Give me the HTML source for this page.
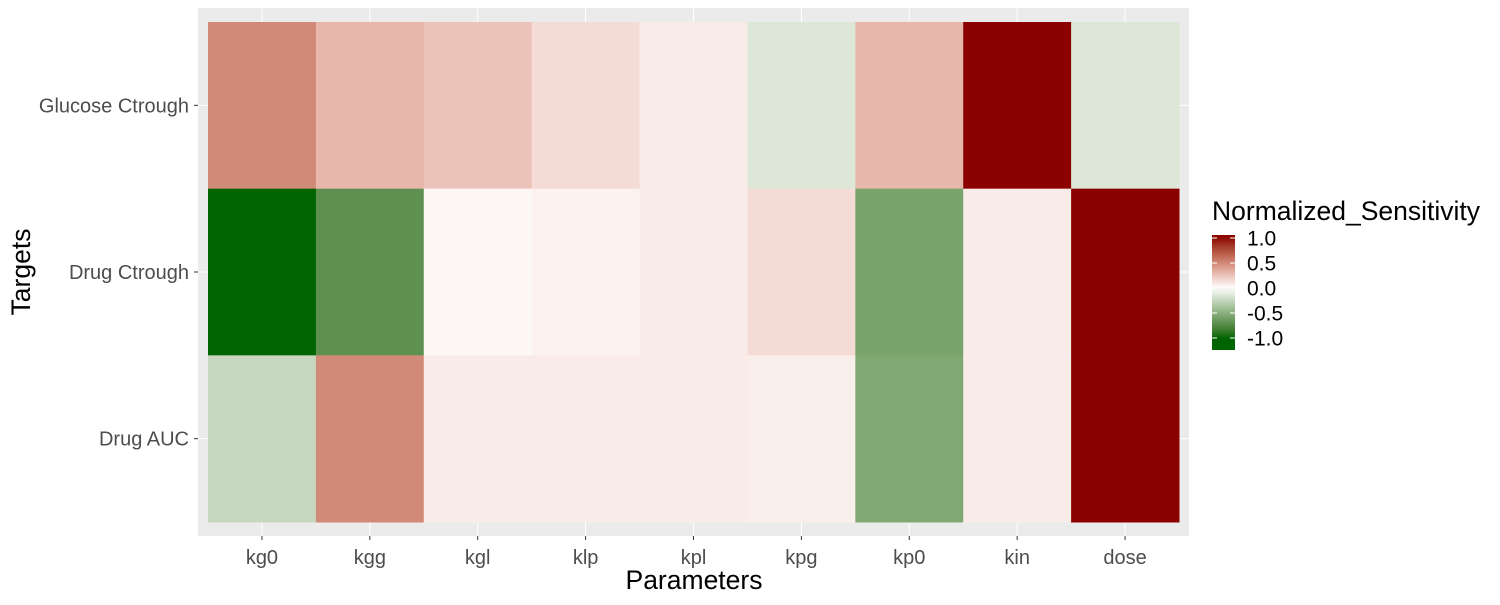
<!DOCTYPE html>
<html><head><meta charset="utf-8"><style>
body{margin:0;background:#fff;}
svg text{font-family:"Liberation Sans",Arial,sans-serif;}
</style></head><body>
<svg id="c" width="1500" height="600" xmlns="http://www.w3.org/2000/svg">
<rect x="198" y="8" width="991" height="528" fill="#ebebeb"/>
<g id="grid"></g>
<g id="tiles"></g>
<g id="axes"></g>
<text x="694" y="589" font-size="26.5" text-anchor="middle" fill="#000">Parameters</text>
<text transform="translate(30,272) rotate(-90)" font-size="26.5" text-anchor="middle" fill="#000">Targets</text>
<text x="1212" y="220" font-size="26.5" fill="#000">Normalized_Sensitivity</text>
<defs><linearGradient id="lg" x1="0" y1="0" x2="0" y2="1"></linearGradient></defs>
<g id="legend"></g>
</svg>
<script>
const params=["kg0","kgg","kgl","klp","kpl","kpg","kp0","kin","dose"];
const targets=["Glucose Ctrough","Drug Ctrough","Drug AUC"];
const glucoseVals=[0.5,0.3,0.25,0.15,0.08,-0.15,0.3,1.0,-0.15];
const ctroughVals=[-1.0,-0.7,0.03,0.05,0.08,0.15,-0.58,0.08,1.0];
const aucVals=[-0.25,0.5,0.08,0.08,0.08,0.07,-0.55,0.08,1.0];
const legendTicks=[1.0,0.5,0.0,-0.5,-1.0];
const legendLabels=["1.0","0.5","0.0","-0.5","-1.0"];
const series=[glucoseVals,ctroughVals,aucVals];

const NS="http://www.w3.org/2000/svg";
function mk(t,a,p){const e=document.createElementNS(NS,t);for(const k in a)e.setAttribute(k,a[k]);(p||document.getElementById('c')).appendChild(e);return e;}
function toLin(c){c/=255;return c<=0.04045?c/12.92:Math.pow((c+0.055)/1.055,2.4);}
function fromLin(c){c=c<=0.0031308?12.92*c:1.055*Math.pow(c,1/2.4)-0.055;return Math.max(0,Math.min(255,Math.round(c*255)));}
function rgb2lab(r,g,b){r=toLin(r);g=toLin(g);b=toLin(b);
let x=(0.4124*r+0.3576*g+0.1805*b)/0.95047,y=0.2126*r+0.7152*g+0.0722*b,z=(0.0193*r+0.1192*g+0.9505*b)/1.08883;
const f=t=>t>0.008856?Math.cbrt(t):7.787*t+16/116;x=f(x);y=f(y);z=f(z);return [116*y-16,500*(x-y),200*(y-z)];}
function lab2rgb(L,a,b){let y=(L+16)/116,x=a/500+y,z=y-b/200;const fi=t=>t*t*t>0.008856?t*t*t:(t-16/116)/7.787;
x=fi(x)*0.95047;y=fi(y);z=fi(z)*1.08883;
const r=3.2406*x-1.5372*y-0.4986*z,g=-0.9689*x+1.8758*y+0.0415*z,bb=0.0557*x-0.2040*y+1.0570*z;
return `rgb(${fromLin(r)},${fromLin(g)},${fromLin(bb)})`;}
const LOW=rgb2lab(0,100,0),MID=rgb2lab(255,255,255),HIGH=rgb2lab(139,0,0);
function col(v){v=Math.max(-1,Math.min(1,v));const A=MID,B=v<0?LOW:HIGH,t=Math.abs(v);
return lab2rgb(A[0]+(B[0]-A[0])*t,A[1]+(B[1]-A[1])*t,A[2]+(B[2]-A[2])*t);}

const x0=208,cw=(1179-208)/params.length,y0=22,rh=(522-22)/targets.length;
const xs=i=>x0+i*cw, ys=j=>y0+j*rh;
const grid=document.getElementById('grid'),tiles=document.getElementById('tiles'),axes=document.getElementById('axes');
for(let i=0;i<params.length;i++){
  const g=mk('line',{x1:xs(i)+cw/2,x2:xs(i)+cw/2,y1:8,y2:536,stroke:'#fff','stroke-width':1},grid);
  
}
for(let j=0;j<targets.length;j++){
  const g=mk('line',{x1:198,x2:1189,y1:ys(j)+rh/2,y2:ys(j)+rh/2,stroke:'#fff','stroke-width':1},grid);
  
}
series.forEach((vals,j)=>vals.forEach((v,i)=>{
  const r=mk('rect',{x:xs(i),y:ys(j),width:cw+0.5,height:rh+0.5,fill:col(v)},tiles);
  
  
}));
params.forEach((p,i)=>{
  const cx=xs(i)+cw/2;
  const t=mk('line',{x1:cx,x2:cx,y1:536,y2:540,stroke:'#333','stroke-width':1},axes);
  
  const l=mk('text',{x:cx,y:564,'font-size':20,'text-anchor':'middle',fill:'#4d4d4d'},axes);l.textContent=p;
  
});
targets.forEach((tg,j)=>{
  const cy=ys(j)+rh/2;
  const t=mk('line',{x1:194,x2:198,y1:cy,y2:cy,stroke:'#333','stroke-width':1},axes);
  
  const l=mk('text',{x:189,y:cy+7,'font-size':20,'text-anchor':'end',fill:'#4d4d4d'},axes);l.textContent=tg;
  
});
const lg=document.getElementById('lg');
const zeroY=288,unit=50,barTop=235,barBot=350;
for(let k=0;k<=20;k++){const y=barTop+(barBot-barTop)*k/20;const v=(zeroY-y)/unit;
  mk('stop',{offset:(k/20),'stop-color':col(v)},lg);}
const leg=document.getElementById('legend');
const bar=mk('rect',{x:1212,y:barTop,width:23,height:barBot-barTop,fill:'url(#lg)'},leg);

legendTicks.forEach((v,k)=>{const y=zeroY-v*unit;
  const a=mk('line',{x1:1212,x2:1217,y1:y,y2:y,stroke:'#fff','stroke-width':1},leg);
  
  const b=mk('line',{x1:1230,x2:1235,y1:y,y2:y,stroke:'#fff','stroke-width':1},leg);
  
  const t=mk('text',{x:1247,y:y+7.5,'font-size':21,fill:'#000'},leg);t.textContent=legendLabels[k];
  
});
</script>
</body></html>
